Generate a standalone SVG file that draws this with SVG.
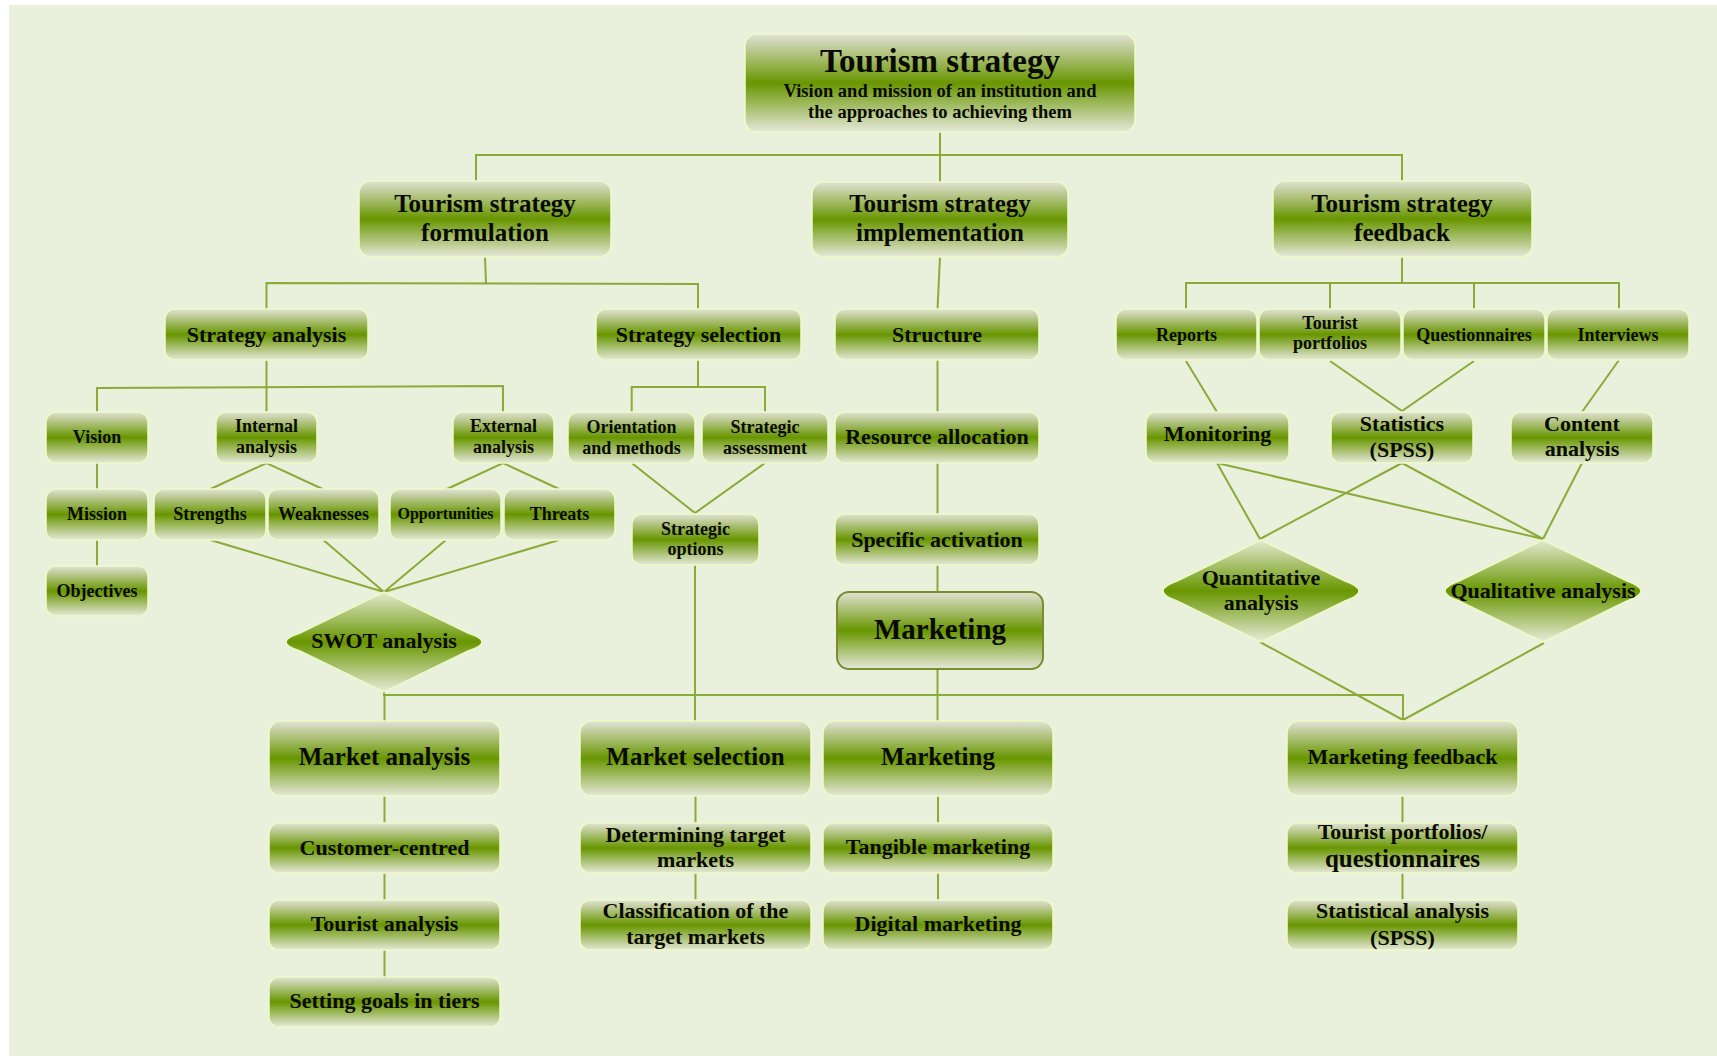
<svg xmlns="http://www.w3.org/2000/svg" width="1717" height="1059" viewBox="0 0 1717 1059">
  <defs>
    <linearGradient id="boxFill" x1="0" y1="0" x2="0" y2="1">
      <stop offset="0" stop-color="#e2e2d6"/>
      <stop offset="0.5" stop-color="#689600"/>
      <stop offset="1" stop-color="#e6e8da"/>
    </linearGradient>
    <linearGradient id="diamondFill" x1="0" y1="0" x2="0" y2="1">
      <stop offset="0" stop-color="#e4ead2"/>
      <stop offset="0.5" stop-color="#689600"/>
      <stop offset="1" stop-color="#e8ecda"/>
    </linearGradient>
  </defs>
  <style>
    .box { fill: url(#boxFill); stroke: #eefac6; stroke-width: 1.5; }
    .hub { fill: url(#boxFill); stroke: #7a8c30; stroke-width: 2; }
    .dia { fill: url(#diamondFill); stroke: #eefac6; stroke-width: 1.5; }
    text { font-family: "Liberation Serif", "Times New Roman", serif; font-weight: bold; fill: #0a0a00; text-anchor: middle; }
    .s16 { font-size: 16px; }
    .s18 { font-size: 18px; }
    .s185 { font-size: 18.5px; }
    .s22 { font-size: 22px; }
    .s25 { font-size: 25px; }
    .s29 { font-size: 29px; }
    .s33 { font-size: 33px; }
    #connectors { fill: none; stroke: #8aab38; stroke-width: 2; }
  </style>

  <!-- canvas -->
  <rect x="9" y="5" width="1708" height="1051" fill="#e9f0dc"/>

  <!-- connectors -->
  <g id="connectors">
    <!-- top level -->
    <path d="M940 132 V182"/>
    <path d="M476 181 V155 H1402 V181"/>
    <!-- formulation -->
    <path d="M485 257 L486 284"/>
    <path d="M266.5 309 V283 L698 284 V309"/>
    <!-- implementation column -->
    <path d="M940 257 L937.5 309"/>
    <path d="M937.5 360 V412"/>
    <path d="M937.5 463 V514"/>
    <path d="M937.5 565 V592"/>
    <path d="M937.5 669 V721"/>
    <!-- feedback -->
    <path d="M1402 257 V283"/>
    <path d="M1186 309 V283 H1619 V309"/>
    <path d="M1330 283 V309"/>
    <path d="M1474 283 V309"/>
    <!-- strategy analysis -->
    <path d="M266.5 360 V412"/>
    <path d="M97 412 V388 L503 386 V412"/>
    <path d="M97 463 V489"/>
    <path d="M97 540 V566"/>
    <path d="M210.5 489 L266.5 463 L322.6 489"/>
    <path d="M447 489 L503 463 L559 489"/>
    <path d="M210.5 540 L384 592 L323.4 540"/>
    <path d="M446 540 L384 592 L559 540"/>
    <!-- strategy selection -->
    <path d="M698 360 V387"/>
    <path d="M631.7 412 V387 H765 V412"/>
    <path d="M631.7 463 L695 513 L765 463"/>
    <path d="M695 565 V721"/>
    <!-- marketing bus -->
    <path d="M384 692 V695 H1403 V720"/>
    <path d="M384.5 695 V721"/>
    <!-- feedback analysis -->
    <path d="M1186 361 L1217 412"/>
    <path d="M1330 361 L1402 411 L1474 361"/>
    <path d="M1619 360 L1582 412"/>
    <path d="M1217 463 L1260 539"/>
    <path d="M1217 463 L1543 539"/>
    <path d="M1402 463 L1260 539"/>
    <path d="M1402 463 L1543 539"/>
    <path d="M1582 463 L1543 539"/>
    <path d="M1260 642 L1403 720 L1544 643"/>
    <!-- lower chains -->
    <path d="M384.5 796 V823 M384.5 873 V900 M384.5 950 V977"/>
    <path d="M695.5 796 V823 M695.5 873 V900"/>
    <path d="M938 796 V823 M938 873 V900"/>
    <path d="M1402.5 796 V823 M1402.5 873 V900"/>
  </g>

  <!-- top -->
  <g id="n-strategy">
    <rect class="box" x="745" y="34" width="390" height="98" rx="12"/>
    <text class="s33" x="940" y="72">Tourism strategy</text>
    <text class="s185" x="940" y="97">Vision and mission of an institution and</text>
    <text class="s185" x="940" y="118">the approaches to achieving them</text>
  </g>

  <!-- second level -->
  <g id="n-formulation">
    <rect class="box" x="359" y="181" width="252" height="76" rx="12"/>
    <text class="s25" x="485" y="212">Tourism strategy</text>
    <text class="s25" x="485" y="241">formulation</text>
  </g>
  <g id="n-implementation">
    <rect class="box" x="812" y="182" width="256" height="75" rx="12"/>
    <text class="s25" x="940" y="212">Tourism strategy</text>
    <text class="s25" x="940" y="241">implementation</text>
  </g>
  <g id="n-feedback">
    <rect class="box" x="1273" y="181" width="259" height="76" rx="12"/>
    <text class="s25" x="1402" y="212">Tourism strategy</text>
    <text class="s25" x="1402" y="241">feedback</text>
  </g>

  <!-- third level -->
  <g id="n-strategy-analysis">
    <rect class="box" x="165" y="309" width="203" height="51" rx="10"/>
    <text class="s22" x="266.5" y="342">Strategy analysis</text>
  </g>
  <g id="n-strategy-selection">
    <rect class="box" x="596" y="309" width="205" height="51" rx="10"/>
    <text class="s22" x="698.5" y="342">Strategy selection</text>
  </g>
  <g id="n-structure">
    <rect class="box" x="835" y="309" width="204" height="51" rx="10"/>
    <text class="s22" x="937" y="342">Structure</text>
  </g>
  <g id="n-reports">
    <rect class="box" x="1116" y="309" width="141" height="51" rx="10"/>
    <text class="s18" x="1186.5" y="341">Reports</text>
  </g>
  <g id="n-tourist-portfolios">
    <rect class="box" x="1259" y="309" width="142" height="51" rx="10"/>
    <text class="s18" x="1330" y="329">Tourist</text>
    <text class="s18" x="1330" y="349">portfolios</text>
  </g>
  <g id="n-questionnaires">
    <rect class="box" x="1403" y="309" width="142" height="51" rx="10"/>
    <text class="s18" x="1474" y="341">Questionnaires</text>
  </g>
  <g id="n-interviews">
    <rect class="box" x="1547" y="309" width="142" height="51" rx="10"/>
    <text class="s18" x="1618" y="341">Interviews</text>
  </g>

  <!-- fourth level -->
  <g id="n-vision">
    <rect class="box" x="46" y="412" width="102" height="51" rx="10"/>
    <text class="s18" x="97" y="443">Vision</text>
  </g>
  <g id="n-internal">
    <rect class="box" x="216" y="412" width="101" height="51" rx="10"/>
    <text class="s18" x="266.5" y="432">Internal</text>
    <text class="s18" x="266.5" y="453">analysis</text>
  </g>
  <g id="n-external">
    <rect class="box" x="453" y="412" width="101" height="51" rx="10"/>
    <text class="s18" x="503.5" y="432">External</text>
    <text class="s18" x="503.5" y="453">analysis</text>
  </g>
  <g id="n-orientation">
    <rect class="box" x="568" y="412" width="127" height="51" rx="10"/>
    <text class="s18" x="631.5" y="433">Orientation</text>
    <text class="s18" x="631.5" y="454">and methods</text>
  </g>
  <g id="n-assessment">
    <rect class="box" x="702" y="412" width="126" height="51" rx="10"/>
    <text class="s18" x="765" y="433">Strategic</text>
    <text class="s18" x="765" y="454">assessment</text>
  </g>
  <g id="n-resource">
    <rect class="box" x="835" y="412" width="204" height="51" rx="10"/>
    <text class="s22" x="937" y="444">Resource allocation</text>
  </g>
  <g id="n-monitoring">
    <rect class="box" x="1146" y="412" width="143" height="51" rx="10"/>
    <text class="s22" x="1217.5" y="441">Monitoring</text>
  </g>
  <g id="n-statistics">
    <rect class="box" x="1331" y="412" width="142" height="51" rx="10"/>
    <text class="s22" x="1402" y="431">Statistics</text>
    <text class="s22" x="1402" y="457">(SPSS)</text>
  </g>
  <g id="n-content">
    <rect class="box" x="1511" y="412" width="142" height="51" rx="10"/>
    <text class="s22" x="1582" y="431">Content</text>
    <text class="s22" x="1582" y="456">analysis</text>
  </g>

  <!-- fifth level -->
  <g id="n-mission">
    <rect class="box" x="46" y="489" width="102" height="51" rx="10"/>
    <text class="s18" x="97" y="520">Mission</text>
  </g>
  <g id="n-strengths">
    <rect class="box" x="154" y="489" width="112" height="51" rx="10"/>
    <text class="s18" x="210" y="520">Strengths</text>
  </g>
  <g id="n-weaknesses">
    <rect class="box" x="268" y="489" width="111" height="51" rx="10"/>
    <text class="s18" x="323.5" y="520">Weaknesses</text>
  </g>
  <g id="n-opportunities">
    <rect class="box" x="390" y="489" width="111" height="51" rx="10"/>
    <text class="s16" x="445.5" y="519">Opportunities</text>
  </g>
  <g id="n-threats">
    <rect class="box" x="504" y="489" width="111" height="51" rx="10"/>
    <text class="s18" x="559.5" y="520">Threats</text>
  </g>
  <g id="n-options">
    <rect class="box" x="632" y="514" width="127" height="51" rx="10"/>
    <text class="s18" x="695.5" y="535">Strategic</text>
    <text class="s18" x="695.5" y="555">options</text>
  </g>
  <g id="n-activation">
    <rect class="box" x="835" y="514" width="204" height="51" rx="10"/>
    <text class="s22" x="937" y="547">Specific activation</text>
  </g>
  <g id="n-objectives">
    <rect class="box" x="46" y="566" width="102" height="50" rx="10"/>
    <text class="s18" x="97" y="597">Objectives</text>
  </g>

  <!-- diamonds: blunt, rounded side tips -->
  <g id="n-swot">
    <path class="dia" d="M384 592 L468 633 Q496 642 468 651 L384 692 L300 651 Q272 642 300 633 Z"/>
    <text class="s22" x="384" y="648">SWOT analysis</text>
  </g>
  <g id="n-quantitative">
    <path class="dia" d="M1261 540 L1345 581 Q1373 591 1345 601 L1261 642 L1177 601 Q1149 591 1177 581 Z"/>
    <text class="s22" x="1261" y="585">Quantitative</text>
    <text class="s22" x="1261" y="610">analysis</text>
  </g>
  <g id="n-qualitative">
    <path class="dia" d="M1543 540 L1627 581 Q1655 591 1627 601 L1543 642 L1459 601 Q1431 591 1459 581 Z"/>
    <text class="s22" x="1543" y="598">Qualitative analysis</text>
  </g>

  <!-- marketing hub -->
  <g id="n-marketing-hub">
    <rect class="hub" x="837" y="592" width="206" height="77" rx="12"/>
    <text class="s29" x="940" y="639">Marketing</text>
  </g>

  <!-- lower row -->
  <g id="n-market-analysis">
    <rect class="box" x="269" y="721" width="231" height="75" rx="12"/>
    <text class="s25" x="384.5" y="765">Market analysis</text>
  </g>
  <g id="n-market-selection">
    <rect class="box" x="580" y="721" width="231" height="75" rx="12"/>
    <text class="s25" x="695.5" y="765">Market selection</text>
  </g>
  <g id="n-marketing">
    <rect class="box" x="823" y="721" width="230" height="75" rx="12"/>
    <text class="s25" x="938" y="765">Marketing</text>
  </g>
  <g id="n-marketing-feedback">
    <rect class="box" x="1287" y="721" width="231" height="75" rx="12"/>
    <text class="s22" x="1402.5" y="764">Marketing feedback</text>
  </g>

  <g id="n-customer">
    <rect class="box" x="269" y="823" width="231" height="50" rx="10"/>
    <text class="s22" x="384.5" y="855">Customer-centred</text>
  </g>
  <g id="n-determining">
    <rect class="box" x="580" y="823" width="231" height="50" rx="10"/>
    <text class="s22" x="695.5" y="842">Determining target</text>
    <text class="s22" x="695.5" y="867">markets</text>
  </g>
  <g id="n-tangible">
    <rect class="box" x="823" y="823" width="230" height="50" rx="10"/>
    <text class="s22" x="938" y="854">Tangible marketing</text>
  </g>
  <g id="n-portfolios-questionnaires">
    <rect class="box" x="1287" y="823" width="231" height="50" rx="10"/>
    <text class="s22" x="1402.5" y="839">Tourist portfolios/</text>
    <text class="s25" x="1402.5" y="867">questionnaires</text>
  </g>

  <g id="n-tourist-analysis">
    <rect class="box" x="269" y="900" width="231" height="50" rx="10"/>
    <text class="s22" x="384.5" y="931">Tourist analysis</text>
  </g>
  <g id="n-classification">
    <rect class="box" x="580" y="900" width="231" height="50" rx="10"/>
    <text class="s22" x="695.5" y="918">Classification of the</text>
    <text class="s22" x="695.5" y="944">target markets</text>
  </g>
  <g id="n-digital">
    <rect class="box" x="823" y="900" width="230" height="50" rx="10"/>
    <text class="s22" x="938" y="931">Digital marketing</text>
  </g>
  <g id="n-statistical">
    <rect class="box" x="1287" y="900" width="231" height="50" rx="10"/>
    <text class="s22" x="1402.5" y="918">Statistical analysis</text>
    <text class="s22" x="1402.5" y="945">(SPSS)</text>
  </g>

  <g id="n-goals">
    <rect class="box" x="269" y="977" width="231" height="50" rx="10"/>
    <text class="s22" x="384.5" y="1008">Setting goals in tiers</text>
  </g>
</svg>
